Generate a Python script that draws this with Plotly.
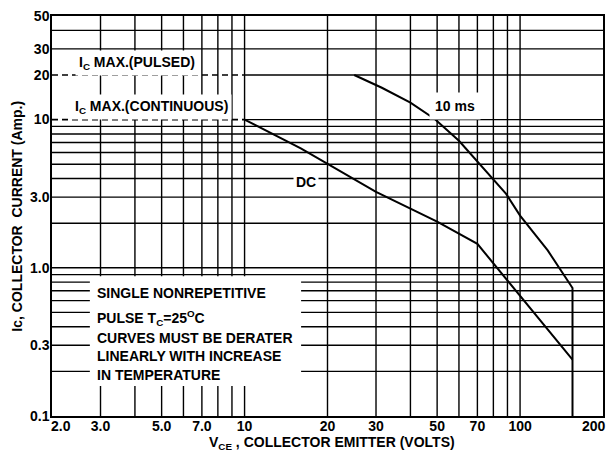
import plotly.graph_objects as go

# ---- data ----
x_tick_vals = [2, 3, 5, 7, 10, 20, 30, 50, 70, 100, 200]
x_tick_text = ["2.0", "3.0", "5.0", "7.0", "10", "20", "30", "50", "70", "100", "200"]
y_tick_vals = [0.1, 0.3, 1, 3, 10, 20, 30, 50]
y_tick_text = ["0.1", "0.3", "1.0", "3.0", "10", "20", "30", "50"]

x_grid = [3, 4, 5, 6, 7, 8, 9, 10, 20, 30, 40, 50, 60, 70, 80, 90, 100]
y_grid = [0.2, 0.3, 0.4, 0.5, 0.6, 0.7, 0.8, 0.9, 1, 2, 3, 4, 5, 6, 7, 8, 9, 30, 40]

ic_max_pulsed = 20
ic_max_cont = 10
v_min, v_max = 2, 200
i_min, i_max = 0.1, 50
v_rating_break = 10

pulse_v = [25, 31.5, 40, 49, 60, 75, 89, 100, 126, 155, 155]
pulse_i = [20, 16.4, 13.0, 10.1, 7.2, 4.5, 3.15, 2.25, 1.31, 0.73, 0.1]

dc_v = [10, 16, 30, 50, 70, 155]
dc_i = [10, 6.4, 3.25, 2.05, 1.45, 0.24]

FONT = "Liberation Sans, Arial, sans-serif"
fig = go.Figure()

# grid lines
gx, gy = [], []
for v in x_grid:
    gx += [v, v, None]
    gy += [i_min, i_max, None]
for v in y_grid:
    gx += [v_min, v_max, None]
    gy += [v, v, None]
fig.add_trace(go.Scatter(x=gx, y=gy, mode="lines", line=dict(color="black", width=1.4),
                         hoverinfo="skip", showlegend=False))

# Ic max lines (dashed part and solid remainder)
for lvl in [ic_max_pulsed, ic_max_cont]:
    fig.add_trace(go.Scatter(x=[v_min, v_rating_break], y=[lvl, lvl], mode="lines",
                             line=dict(color="black", width=1.6, dash="6px,4px"), showlegend=False))
    fig.add_trace(go.Scatter(x=[v_rating_break, v_max], y=[lvl, lvl], mode="lines",
                             line=dict(color="black", width=1.4), showlegend=False))

fig.add_trace(go.Scatter(x=pulse_v, y=pulse_i, mode="lines", line=dict(color="black", width=2),
                         showlegend=False))
fig.add_trace(go.Scatter(x=dc_v, y=dc_i, mode="lines", line=dict(color="black", width=2),
                         showlegend=False))

L, R, T, B = 52, 8, 15, 42
W, H = 613, 458
pw, ph = W - L - R, H - T - B


def px(x):
    return (x - L) / pw


def py(y):
    return (T + ph - y) / ph


# white box behind notes
fig.add_shape(type="rect", xref="paper", yref="paper", x0=px(90), x1=px(302), y0=py(386), y1=py(276),
              fillcolor="white", line=dict(width=0), layer="above")

ann_font = dict(family=FONT, size=14, color="black")


def label(text, x, y, xanchor="center", bg=None, pad=2):
    fig.add_annotation(text="<b>" + text + "</b>", xref="paper", yref="paper", x=px(x), y=py(y),
                       xanchor=xanchor, yanchor="middle", showarrow=False, font=ann_font,
                       bgcolor=bg, borderpad=pad)


label("I<sub>C</sub> MAX.(PULSED)", 137, 62, bg="white", pad=3)
label("I<sub>C</sub> MAX.(CONTINUOUS)", 152, 106, bg="white", pad=3)
label("10 ms", 456, 105, bg="white", pad=5)
label("DC", 307, 181, bg="white", pad=2)

notes = ["SINGLE NONREPETITIVE", "PULSE T<sub>C</sub>=25<sup>O</sup>C", "CURVES MUST BE DERATER",
         "LINEARLY WITH INCREASE", "IN TEMPERATURE"]
note_y = [293, 318, 338, 356, 375]
for t, yy in zip(notes, note_y):
    label(t, 94, yy, xanchor="left")

# edge tick labels (shifted inward as in the reference)
label(x_tick_text[0], 61, 426)
label(x_tick_text[-1], 596, 426)

# axis titles
fig.add_annotation(text="<b>Ic, COLLECTOR\u00a0\u00a0CURRENT (Amp.)</b>", xref="paper", yref="paper",
                   x=px(17), y=py(216), textangle=-90, showarrow=False, font=ann_font,
                   xanchor="center", yanchor="middle")
fig.add_annotation(text="<b>V<sub>CE</sub> , COLLECTOR EMITTER (VOLTS)</b>", xref="paper", yref="paper",
                   x=px(333), y=py(443), showarrow=False, font=ann_font,
                   xanchor="center", yanchor="middle")

axis_common = dict(showgrid=False, zeroline=False, showline=True, mirror=True, linecolor="black",
                   linewidth=1.5, ticks="", tickfont=dict(family=FONT, size=14, color="black", weight="bold"))
fig.update_xaxes(type="log", range=[0.30103, 2.30103], tickvals=x_tick_vals[1:-1],
                 ticktext=x_tick_text[1:-1], ticklabelstandoff=-4, **axis_common)
fig.update_yaxes(type="log", range=[-1, 1.69897], tickvals=y_tick_vals, ticktext=y_tick_text,
                 ticklabelstandoff=-2, **axis_common)

fig.update_layout(width=W, height=H, margin=dict(l=L, r=R, t=T, b=B), plot_bgcolor="white",
                  paper_bgcolor="white", showlegend=False, font=dict(family=FONT))

fig.write_html("out.html", config={"displayModeBar": False},
               post_script="document.body.style.margin='0';document.body.style.overflow='hidden';")
